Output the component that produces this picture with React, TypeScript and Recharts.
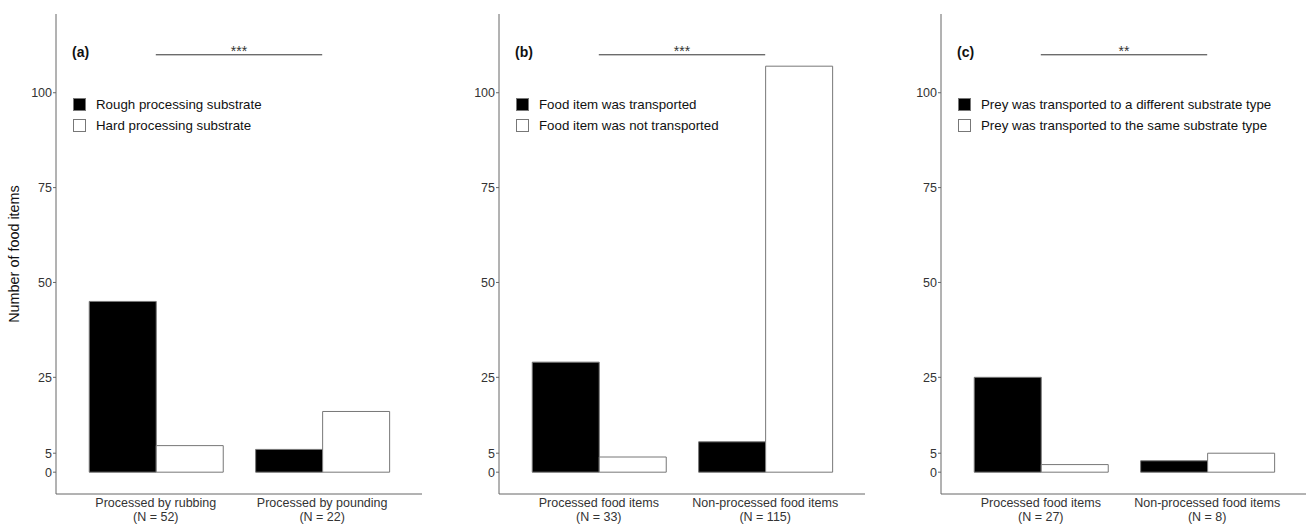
import { BarChart, Bar, XAxis, YAxis, ReferenceLine, Legend } from 'recharts'

const FONT = '"Liberation Sans", Arial, sans-serif'

const panelLabels = ['(a)', '(b)', '(c)']
const panelStars = ['***', '***', '**']

const categoriesA = ['Processed by rubbing', 'Processed by pounding']
const nA = ['(N = 52)', '(N = 22)']
const roughA = [45, 6]
const hardA = [7, 16]
const legendA = ['Rough processing substrate', 'Hard processing substrate']

const categoriesB = ['Processed food items', 'Non-processed food items']
const nB = ['(N = 33)', '(N = 115)']
const transportedB = [29, 8]
const notTransportedB = [4, 107]
const legendB = ['Food item was transported', 'Food item was not transported']

const categoriesC = ['Processed food items', 'Non-processed food items']
const nC = ['(N = 27)', '(N = 8)']
const differentC = [25, 3]
const sameC = [2, 5]
const legendC = [
  'Prey was transported to a different substrate type',
  'Prey was transported to the same substrate type',
]

const yTicks = [0, 5, 25, 50, 75, 100]
const sigLevel = 110

type Row = { cat: string; n: string; first: number; second: number }

function rows(cats: string[], ns: string[], first: number[], second: number[]): Row[] {
  return cats.map((cat, i) => ({ cat, n: ns[i], first: first[i], second: second[i] }))
}

const panels = [
  { left: 0, data: rows(categoriesA, nA, roughA, hardA), legend: legendA },
  { left: 443, data: rows(categoriesB, nB, transportedB, notTransportedB), legend: legendB },
  { left: 885, data: rows(categoriesC, nC, differentC, sameC), legend: legendC },
]

function CatTick(props: any) {
  const { x, y, payload, data } = props
  const row = (data as Row[]).find((d) => d.cat === payload.value)
  return (
    <g>
      <text x={x} y={y + 12.5} textAnchor="middle" fontSize={12.5} fill="#333" fontFamily={FONT}>
        {payload.value}
      </text>
      <text x={x} y={y + 26.5} textAnchor="middle" fontSize={12.5} fill="#333" fontFamily={FONT}>
        {row ? row.n : ''}
      </text>
    </g>
  )
}

function LegendBox({ labels }: { labels: string[] }) {
  return (
    <div style={{ fontFamily: FONT, fontSize: 13.3, color: '#111', textAlign: 'left' }}>
      {labels.map((l, i) => (
        <div key={l} style={{ display: 'flex', alignItems: 'center', height: 21 }}>
          <span
            style={{
              width: 11,
              height: 11,
              background: i === 0 ? '#000' : '#fff',
              border: '1px solid #777',
              marginRight: 10,
              flex: 'none',
            }}
          />
          <span>{l}</span>
        </div>
      ))}
    </div>
  )
}

function Panel({ idx }: { idx: number }) {
  const p = panels[idx]
  return (
    <div style={{ position: 'absolute', left: p.left, top: 0 }}>
      <BarChart
        width={422}
        height={528}
        data={p.data}
        margin={{ top: 14, right: 0, left: 0, bottom: 0 }}
        barCategoryGap="10%"
        barGap={0}
      >
        <XAxis
          dataKey="cat"
          height={34}
          padding={{ left: 16.6, right: 16.6 }}
          axisLine={{ stroke: '#666', strokeWidth: 1 }}
          tickLine={false}
          tickSize={0}
          tickMargin={0}
          interval={0}
          tick={<CatTick data={p.data} />}
        />
        <YAxis
          width={56}
          domain={[-5.75, 120.75]}
          allowDataOverflow
          ticks={yTicks}
          interval={0}
          axisLine={{ stroke: '#666', strokeWidth: 1 }}
          tickLine={{ stroke: '#666' }}
          tickSize={3}
          tickMargin={1}
          tick={{ fontSize: 12.5, fill: '#333', fontFamily: FONT }}
        />
        <Legend
          layout="horizontal"
          verticalAlign="middle"
          align="center"
          content={() => <LegendBox labels={p.legend} />}
          wrapperStyle={{ position: 'absolute', top: 94, left: 73, width: 'auto' }}
        />
        <Bar dataKey="first" fill="#000" stroke="#777" strokeWidth={1} isAnimationActive={false} />
        <Bar dataKey="second" fill="#fff" stroke="#777" strokeWidth={1} isAnimationActive={false} />
        <ReferenceLine
          segment={[
            { x: p.data[0].cat, y: sigLevel },
            { x: p.data[1].cat, y: sigLevel },
          ]}
          stroke="#333"
          strokeWidth={1}
          label={{ value: panelStars[idx], position: 'top', offset: -1, fontSize: 14, fill: '#333', fontFamily: FONT }}
        />
      </BarChart>
      <div
        style={{
          position: 'absolute',
          left: 72,
          top: 44,
          fontFamily: FONT,
          fontWeight: 'bold',
          fontSize: 14,
          color: '#111',
        }}
      >
        {panelLabels[idx]}
      </div>
    </div>
  )
}

export default function App() {
  return (
    <div
      style={{
        position: 'absolute',
        left: 0,
        top: 0,
        width: 1306,
        height: 528,
        overflow: 'hidden',
        background: '#fff',
      }}
    >
      <Panel idx={0} />
      <Panel idx={1} />
      <Panel idx={2} />
      <div
        style={{
          position: 'absolute',
          left: 14,
          top: 254,
          transform: 'translate(-50%, -50%) rotate(-90deg)',
          whiteSpace: 'nowrap',
          fontFamily: FONT,
          fontSize: 14.4,
          color: '#111',
        }}
      >
        Number of food items
      </div>
    </div>
  )
}
